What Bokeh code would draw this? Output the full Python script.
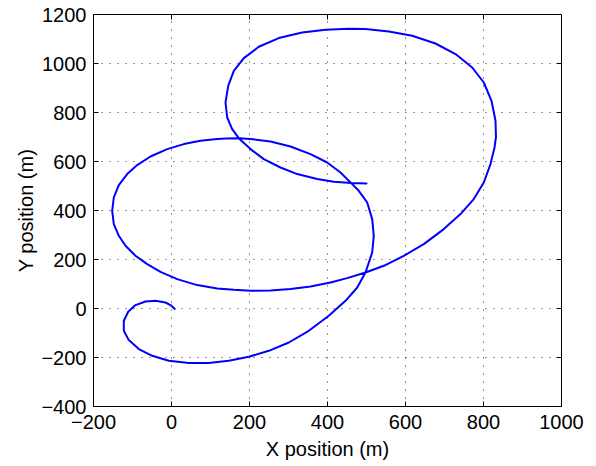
import math
from bokeh.plotting import figure
from bokeh.models import FixedTicker, Range1d
from bokeh.embed import file_html
from bokeh.resources import INLINE

# Trajectory (metres)
x_pos = [8.5, -2.6, -15.4, -41.0, -66.7, -92.3, -111.0, -122.3, -122.3, -109.5,
         -83.8, -49.5, -6.9, 44.4, 95.6, 146.9, 198.2, 249.5, 300.8, 352.1,
         403.3, 446.2, 476.2, 497.4, 514.6, 518.7, 514.6, 501.8, 480.3, 460.8,
         433.3, 399.2, 356.4, 305.1, 253.8, 210.0, 175.0, 140.0, 117.2, 74.4,
         31.6, -11.0, -53.8, -88.0, -113.6, -135.1, -147.9, -152.1, -147.9, -135.1,
         -117.9, -92.3, -62.3, -28.2, 14.6, 65.9, 117.2, 159.8, 202.6, 253.8,
         305.1, 356.4, 407.7, 450.5, 497.4, 544.4, 595.6, 646.9, 698.2, 741.0,
         775.1, 800.8, 817.9, 828.2, 832.0, 830.8, 820.5, 800.8, 771.0, 728.2,
         676.9, 617.2, 557.2, 497.4, 454.6, 394.9, 335.1, 275.1, 223.8, 185.4,
         159.8, 145.4, 138.5, 142.8, 155.6, 174.4, 202.6, 236.7, 279.5, 322.3,
         373.6, 416.2, 460.8, 500.0]
y_pos = [-1.6, 13.9, 24.5, 31.4, 28.6, 13.9, -13.5, -50.2, -91.0, -129.0,
         -165.7, -193.0, -213.5, -222.9, -222.9, -213.5, -197.1, -172.7, -138.8, -91.0,
         -29.8, 31.4, 85.7, 146.9, 228.6, 296.7, 364.9, 432.7, 480.4, 511.8,
         555.1, 595.9, 630.2, 661.2, 681.6, 690.5, 694.5, 694.0, 691.4, 684.5,
         671.0, 650.6, 620.4, 585.3, 548.6, 503.7, 453.1, 398.8, 344.5, 296.7,
         255.9, 215.1, 181.2, 149.8, 120.0, 95.5, 81.6, 76.3, 72.5, 73.5,
         79.2, 89.8, 106.1, 124.1, 146.9, 174.3, 215.1, 262.9, 324.1, 385.3,
         446.5, 514.3, 589.4, 657.1, 700.0, 766.1, 847.8, 922.4, 983.7, 1038.4,
         1081.6, 1113.0, 1130.6, 1140.4, 1141.6, 1137.6, 1126.5, 1103.7, 1068.2, 1022.0,
         970.2, 909.0, 840.8, 779.6, 732.2, 691.4, 650.6, 609.8, 575.5, 548.6,
         528.2, 517.1, 511.8, 510.2]

x_ticks = [-200, 0, 200, 400, 600, 800, 1000]
y_ticks = [-400, -200, 0, 200, 400, 600, 800, 1000, 1200]
x_label = "X position (m)"
y_label = "Y position (m)"

FONT = "Liberation Sans"
X_MIN, X_MAX = x_ticks[0], x_ticks[-1]
Y_MIN, Y_MAX = y_ticks[0], y_ticks[-1]

p = figure(width=596, height=466, output_backend="svg", toolbar_location=None,
           x_range=Range1d(X_MIN, X_MAX), y_range=Range1d(Y_MIN, Y_MAX),
           min_border_left=93, min_border_right=35, min_border_top=14,
           min_border_bottom=60)
p.background_fill_color = "white"
p.border_fill_color = "white"
p.outline_line_color = "black"
p.outline_line_width = 1

p.xgrid.ticker = FixedTicker(ticks=x_ticks)
p.ygrid.ticker = FixedTicker(ticks=y_ticks)
for g in (p.xgrid, p.ygrid):
    g.grid_line_color = "black"
    g.grid_line_dash = "1 7"
    g.grid_line_width = 1
    g.grid_line_alpha = 0.85

p.line(x_pos, y_pos, line_color="#0000ff", line_width=2, line_join="round",
       line_cap="round")

for ax, ticks in ((p.xaxis[0], x_ticks), (p.yaxis[0], y_ticks)):
    ax.ticker = FixedTicker(ticks=ticks)
    ax.major_tick_in = 5
    ax.major_tick_out = 0
    ax.minor_tick_in = 0
    ax.minor_tick_out = 0
    ax.axis_line_color = "black"
    ax.major_tick_line_color = "black"
    ax.major_label_text_font = FONT
    ax.major_label_text_font_size = "20px"
    ax.major_label_text_color = "black"
    ax.axis_label_text_font = FONT
    ax.axis_label_text_font_size = "20px"
    ax.axis_label_text_font_style = "normal"
    ax.axis_label_text_color = "black"

p.xaxis[0].axis_label = x_label
p.yaxis[0].axis_label = y_label
p.xaxis[0].major_label_standoff = 8
p.xaxis[0].axis_label_standoff = 6
p.yaxis[0].major_label_standoff = 7
p.yaxis[0].axis_label_standoff = 1
p.xaxis[0].major_label_overrides = {t: str(t).replace("-", "\u2212") for t in x_ticks}
p.yaxis[0].major_label_overrides = {t: str(t).replace("-", "\u2212") for t in y_ticks}

# inward ticks on the top and right edges of the box (MATLAB "box on")
p.ray(x=x_ticks, y=[Y_MAX] * len(x_ticks), length=5, angle=-math.pi / 2,
      length_units="screen", line_color="black", line_width=1)
p.ray(x=[X_MAX] * len(y_ticks), y=y_ticks, length=5, angle=math.pi,
      length_units="screen", line_color="black", line_width=1)

open("out.html", "w").write(file_html(p, INLINE))
